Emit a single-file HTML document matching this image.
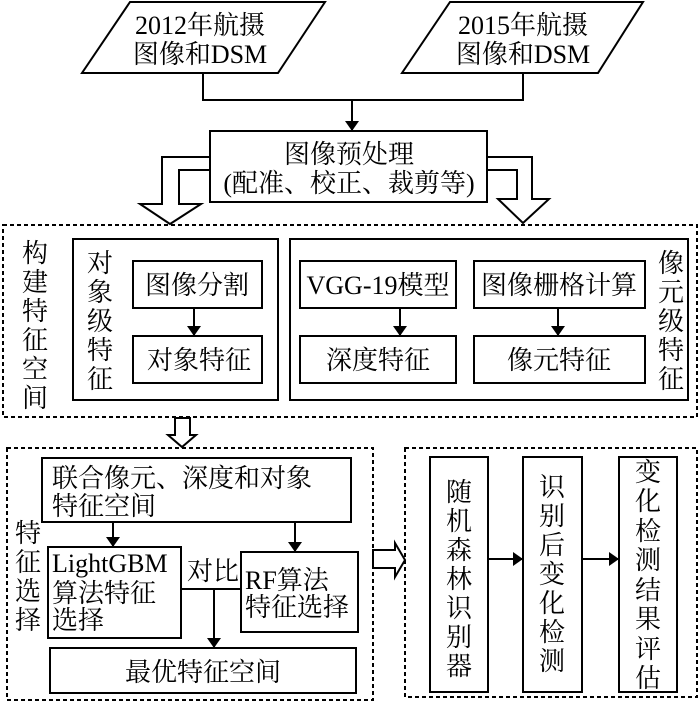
<!DOCTYPE html>
<html><head><meta charset="utf-8"><style>
html,body{margin:0;padding:0;background:#fff;}
svg{display:block;}
text{font-family:"Liberation Serif","Noto Serif CJK SC","Noto Sans CJK SC",serif;font-size:26px;fill:#000;}
</style></head><body>
<svg width="700" height="702" viewBox="0 0 700 702" xmlns="http://www.w3.org/2000/svg">
<defs><marker id="a" markerWidth="10" markerHeight="14" refX="10" refY="7" orient="auto" markerUnits="userSpaceOnUse"><path d="M0,0 L10,7 L0,14 Z" fill="#000"/></marker></defs>

<g fill="none" stroke="#000" stroke-width="2">
<polygon points="130,2 325,2 278,73 82,73"/>
<polygon points="450,2 643,2 598,73 402,73"/>
<polyline points="203,73 203,100 523,100 523,73"/>
<line x1="352" y1="100" x2="352" y2="131" marker-end="url(#a)"/>
<rect x="210" y="131" width="277" height="71"/>
</g>
<text x="200" y="34" text-anchor="middle">2012年航摄</text>
<text x="200" y="63" text-anchor="middle">图像和DSM</text>
<text x="523" y="34" text-anchor="middle">2015年航摄</text>
<text x="523" y="63" text-anchor="middle">图像和DSM</text>
<text x="349" y="163" text-anchor="middle">图像预处理</text>
<text x="349" y="192" text-anchor="middle">(配准、校正、裁剪等)</text>

<g fill="#fff" stroke="#000" stroke-width="2">
<polygon points="210,157 162,157 162,204 140,204 170,224 201,204 179,204 179,170 210,170"/>
<polygon points="487,157 532,157 532,199 549,199 523,223 498,199 517,199 517,170 487,170"/>
</g>

<rect x="3" y="225" width="694" height="192" fill="none" stroke="#000" stroke-width="2" stroke-dasharray="4,3"/>
<g fill="none" stroke="#000" stroke-width="2">
<rect x="73" y="239" width="205" height="161"/>
<rect x="290" y="239" width="398" height="161"/>
<rect x="133" y="261" width="129" height="47"/>
<rect x="133" y="336" width="129" height="47"/>
<rect x="300" y="261" width="156" height="47"/>
<rect x="300" y="336" width="156" height="47"/>
<rect x="474" y="261" width="171" height="47"/>
<rect x="474" y="336" width="171" height="47"/>
<line x1="194" y1="308" x2="194" y2="336" marker-end="url(#a)"/>
<line x1="400" y1="308" x2="400" y2="336" marker-end="url(#a)"/>
<line x1="558" y1="308" x2="558" y2="336" marker-end="url(#a)"/>
</g>
<text x="197" y="294" text-anchor="middle">图像分割</text>
<text x="199" y="369" text-anchor="middle">对象特征</text>
<text x="378" y="294" text-anchor="middle">VGG-19模型</text>
<text x="378" y="369" text-anchor="middle">深度特征</text>
<text x="559" y="294" text-anchor="middle">图像栅格计算</text>
<text x="559" y="369" text-anchor="middle">像元特征</text>
<g text-anchor="middle">
<text x="35" y="262">构</text><text x="35" y="291">建</text><text x="35" y="320">特</text><text x="35" y="349">征</text><text x="35" y="378">空</text><text x="35" y="407">间</text>
<text x="100" y="272">对</text><text x="100" y="301">象</text><text x="100" y="330">级</text><text x="100" y="359">特</text><text x="100" y="388">征</text>
<text x="671" y="272">像</text><text x="671" y="301">元</text><text x="671" y="330">级</text><text x="671" y="359">特</text><text x="671" y="388">征</text>
</g>

<polygon points="175,418 190,418 190,435 196,435 182,447 168,435 175,435" fill="#fff" stroke="#000" stroke-width="2"/>

<rect x="7" y="448" width="366" height="252" fill="none" stroke="#000" stroke-width="2" stroke-dasharray="4,3"/>
<g fill="none" stroke="#000" stroke-width="2">
<rect x="42" y="458" width="309" height="64"/>
<rect x="48" y="547" width="133" height="91"/>
<rect x="241" y="552" width="117" height="80"/>
<rect x="50" y="648" width="306" height="45"/>
<line x1="113" y1="522" x2="113" y2="547" marker-end="url(#a)"/>
<line x1="295" y1="522" x2="295" y2="552" marker-end="url(#a)"/>
<line x1="181" y1="589" x2="241" y2="589"/>
<line x1="214" y1="589" x2="214" y2="648" marker-end="url(#a)"/>
</g>
<text x="52" y="487">联合像元、深度和对象</text>
<text x="52" y="515">特征空间</text>
<text x="52" y="572">LightGBM</text>
<text x="52" y="602">算法特征</text>
<text x="52" y="629">选择</text>
<text x="245" y="589">RF算法</text>
<text x="245" y="616">特征选择</text>
<text x="187" y="580">对比</text>
<text x="203" y="681" text-anchor="middle">最优特征空间</text>
<g text-anchor="middle">
<text x="28" y="542">特</text><text x="28" y="571">征</text><text x="28" y="600">选</text><text x="28" y="629">择</text>
</g>

<polygon points="373,550 395,550 395,543 405,560 395,577 395,568 373,568" fill="#fff" stroke="#000" stroke-width="2"/>

<rect x="405" y="448" width="292" height="249" fill="none" stroke="#000" stroke-width="2" stroke-dasharray="4,3"/>
<g fill="none" stroke="#000" stroke-width="2">
<rect x="430" y="457" width="58" height="235"/>
<rect x="523" y="457" width="59" height="235"/>
<rect x="619" y="457" width="58" height="235"/>
<line x1="488" y1="559" x2="523" y2="559" marker-end="url(#a)"/>
<line x1="582" y1="559" x2="619" y2="559" marker-end="url(#a)"/>
</g>
<g text-anchor="middle">
<text x="459" y="501">随</text><text x="459" y="530">机</text><text x="459" y="559">森</text><text x="459" y="588">林</text><text x="459" y="617">识</text><text x="459" y="646">别</text><text x="459" y="675">器</text>
<text x="552" y="496">识</text><text x="552" y="525">别</text><text x="552" y="554">后</text><text x="552" y="583">变</text><text x="552" y="612">化</text><text x="552" y="641">检</text><text x="552" y="670">测</text>
<text x="648" y="481">变</text><text x="648" y="510">化</text><text x="648" y="540">检</text><text x="648" y="569">测</text><text x="648" y="599">结</text><text x="648" y="628">果</text><text x="648" y="658">评</text><text x="648" y="687">估</text>
</g>
</svg>
</body></html>
